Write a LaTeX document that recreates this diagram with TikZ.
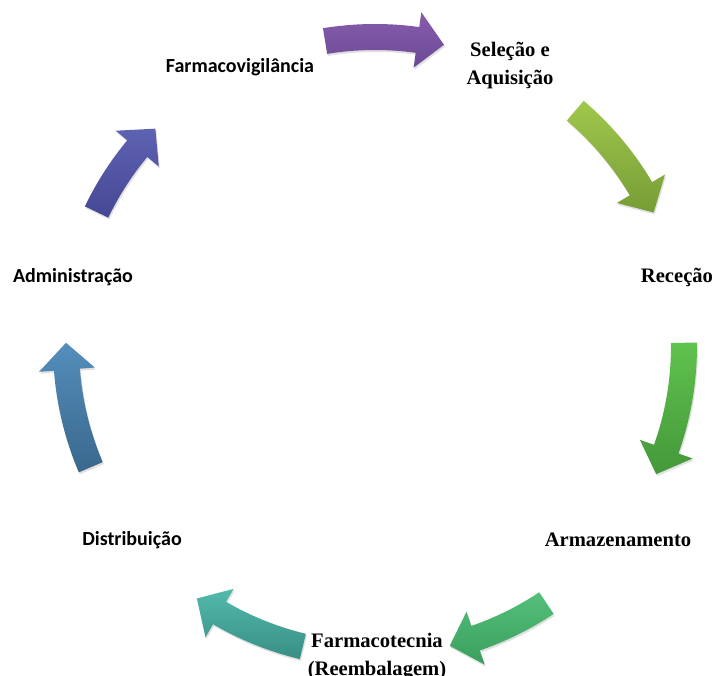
\documentclass[tikz,border=0pt]{standalone}
\usepackage{fontspec}
\setmainfont{Liberation Serif}
\newfontfamily\calib{Carlito}
\definecolor{puT}{RGB}{134,92,172}\definecolor{puB}{RGB}{108,74,150}
\definecolor{ygT}{RGB}{160,200,76}\definecolor{ygB}{RGB}{118,156,54}
\definecolor{grT}{RGB}{96,194,78}\definecolor{grB}{RGB}{68,152,58}
\definecolor{gmT}{RGB}{84,192,122}\definecolor{gmB}{RGB}{58,158,94}
\definecolor{teT}{RGB}{82,186,172}\definecolor{teB}{RGB}{56,142,132}
\definecolor{stT}{RGB}{84,142,188}\definecolor{stB}{RGB}{58,104,140}
\definecolor{inT}{RGB}{94,98,178}\definecolor{inB}{RGB}{68,72,148}
\newcommand\cycarrow[4]{%
  \pgfmathsetmacro\headang{#4+5}%
  \path[preaction={fill=black,opacity=0.12,transform canvas={xshift=1pt,yshift=-2pt}},
        top color=#1, bottom color=#2]
    (#3:322pt) arc[start angle=#3, end angle=\headang, radius=322pt]
    -- (\headang:337pt) -- (#4:309pt) -- (\headang:281pt) -- (\headang:296pt)
    arc[start angle=\headang, end angle=#3, radius=296pt] -- cycle;}
\begin{document}
\begin{tikzpicture}[
  sanslbl/.style={font=\calib\bfseries\fontsize{20}{24}\selectfont, inner sep=0pt},
  seriflbl/.style={font=\bfseries\fontsize{20.6}{28}\selectfont, inner sep=0pt, align=center}]
\useasboundingbox (-375pt,-330pt) rectangle (340pt,346pt);
% arrows
\cycarrow{puT}{puB}{99.3}{77.1}
\cycarrow{ygT}{ygB}{49.6}{25.6}
\cycarrow{grT}{grB}{0.6}{-24.5}
\cycarrow{gmT}{gmB}{-56.3}{-76}
\cycarrow{teT}{teB}{-103.5}{-125.2}
\cycarrow{stT}{stB}{-156.9}{-180.6}
\cycarrow{inT}{inB}{154.3}{135.3}
% labels
\node[sanslbl] (farmacov) at (-135pt,279pt) {Farmacovigilância};
\node[seriflbl] (selecao) at (135pt,280pt) {Seleção e\\Aquisição};
\node[seriflbl] (rececao) at (302pt,69pt) {Receção};
\node[seriflbl] (armaz) at (243pt,-194pt) {Armazenamento};
\node[seriflbl] (farmacot) at (2pt,-311pt) {Farmacotecnia\\(Reembalagem)};
\node[sanslbl] (distrib) at (-243pt,-194pt) {Distribuição};
\node[sanslbl] (admin) at (-302pt,69pt) {Administração};
\end{tikzpicture}
\end{document}
